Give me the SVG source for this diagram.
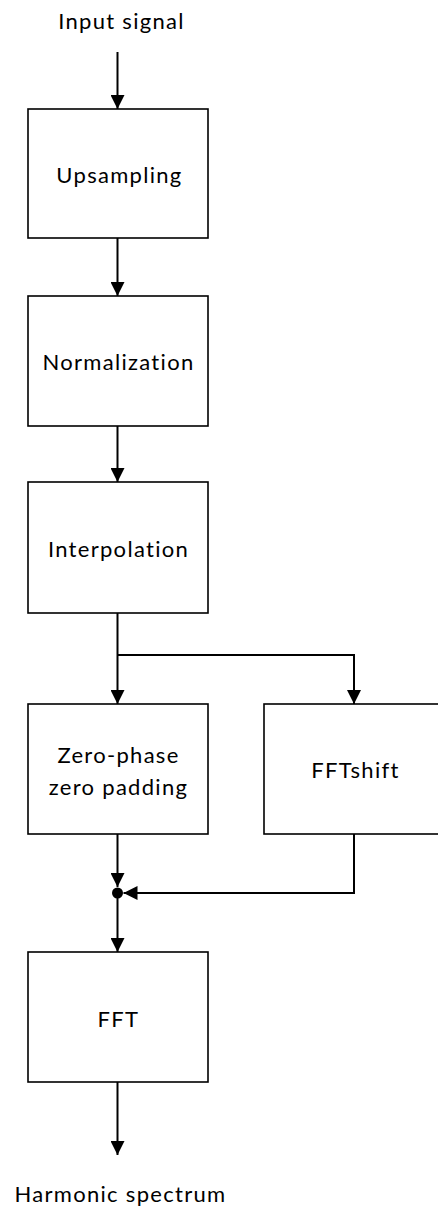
<svg xmlns="http://www.w3.org/2000/svg" width="438" height="1209" viewBox="0 0 438 1209">
  <style>
    .box { fill: #ffffff; stroke: #000000; stroke-width: 1.6; }
    .wire { fill: none; stroke: #000000; stroke-width: 2; }
    .lbl { font-family: Lato, "Open Sans", "Liberation Sans", sans-serif; font-size: 22px; letter-spacing: 1.3px; fill: #000000; text-anchor: middle; }
  </style>
  <defs>
    <marker id="arrow" markerUnits="userSpaceOnUse" markerWidth="14" markerHeight="14" viewBox="0 0 14 14" refX="14" refY="7" orient="auto">
      <path d="M0,0 L14,7 L0,14 Z" fill="#000000"/>
    </marker>
  </defs>

  <rect width="438" height="1209" fill="#ffffff"/>

  <!-- connectors -->
  <g id="connectors">
    <line class="wire" x1="117.5" y1="52" x2="117.5" y2="109" marker-end="url(#arrow)"/>
    <line class="wire" x1="117.5" y1="238" x2="117.5" y2="296" marker-end="url(#arrow)"/>
    <line class="wire" x1="117.5" y1="426" x2="117.5" y2="482" marker-end="url(#arrow)"/>
    <line class="wire" x1="117.5" y1="613" x2="117.5" y2="704" marker-end="url(#arrow)"/>
    <polyline class="wire" points="117.5,655 354,655 354,704" marker-end="url(#arrow)"/>
    <line class="wire" x1="117.5" y1="834" x2="117.5" y2="887" marker-end="url(#arrow)"/>
    <polyline class="wire" points="354,834 354,893 123.5,893" marker-end="url(#arrow)"/>
    <line class="wire" x1="117.5" y1="893" x2="117.5" y2="952" marker-end="url(#arrow)"/>
    <line class="wire" x1="117.5" y1="1082" x2="117.5" y2="1155" marker-end="url(#arrow)"/>
    <circle cx="117.5" cy="893" r="5.5" fill="#000000"/>
  </g>

  <g id="input">
    <text class="lbl" x="121.5" y="29">Input signal</text>
  </g>

  <g id="upsampling">
    <rect class="box" x="28" y="109" width="180" height="129"/>
    <text class="lbl" x="119.5" y="183">Upsampling</text>
  </g>

  <g id="normalization">
    <rect class="box" x="28" y="296" width="180" height="130"/>
    <text class="lbl" x="118.5" y="370">Normalization</text>
  </g>

  <g id="interpolation">
    <rect class="box" x="28" y="482" width="180" height="131"/>
    <text class="lbl" x="118.5" y="557">Interpolation</text>
  </g>

  <g id="zero-padding">
    <rect class="box" x="28" y="704" width="180" height="130"/>
    <text class="lbl" x="118.5" y="763">Zero-phase</text>
    <text class="lbl" x="118.5" y="795">zero padding</text>
  </g>

  <g id="fftshift">
    <rect class="box" x="264" y="704" width="180" height="130"/>
    <text class="lbl" x="355.5" y="778">FFTshift</text>
  </g>

  <g id="fft">
    <rect class="box" x="28" y="952" width="180" height="130"/>
    <text class="lbl" x="118.5" y="1027">FFT</text>
  </g>

  <g id="output">
    <text class="lbl" x="120.5" y="1202">Harmonic spectrum</text>
  </g>
</svg>
